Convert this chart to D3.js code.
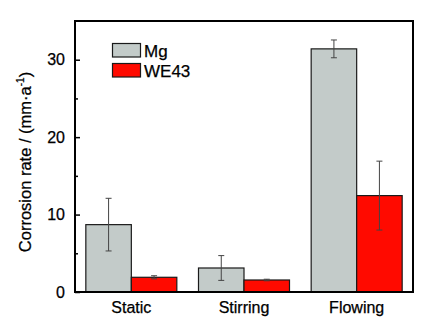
<!DOCTYPE html>
<html><head><meta charset="utf-8">
<script src="https://cdn.jsdelivr.net/npm/d3@7"></script>
<style>body{margin:0;background:#fff}svg{display:block;font-family:"Liberation Sans",Arial,sans-serif}</style>
</head><body><svg id="c" width="424" height="322"></svg>
<script>
const categories = ["Static", "Stirring", "Flowing"];
const seriesNames = ["Mg", "WE43"];
const mgValues = [8.7, 3.1, 31.4];
const mgErrors = [3.4, 1.6, 1.15];
const we43Values = [1.9, 1.55, 12.45];
const we43Errors = [0.2, 0.1, 4.45];
const yTicks = [0, 10, 20, 30];
const yMinorTicks = [5, 15, 25];
const colors = ["#c3cbc9", "#ff0a00"];

const svg = d3.select("#c");
const m = {l: 75, t: 21, r: 11, b: 30};
const W = 424, H = 322;
const x = d3.scaleBand().domain(categories).range([m.l, W - m.r]).padding(0);
const y = d3.scaleLinear().domain([0, 35]).range([H - m.b, m.t]);
const bw = 45.5;

const series = [
  {name: seriesNames[0], vals: mgValues, errs: mgErrors, color: colors[0]},
  {name: seriesNames[1], vals: we43Values, errs: we43Errors, color: colors[1]}
];

series.forEach((s, si) => {
  const g = svg.append("g");
  categories.forEach((c, i) => {
    const cx = x(c) + x.bandwidth() / 2;
    const x0 = si === 0 ? cx - bw : cx;
    g.append("rect").attr("x", x0).attr("y", y(s.vals[i]))
      .attr("width", bw).attr("height", y(0) - y(s.vals[i]))
      .attr("fill", s.color).attr("stroke", "#1a1a1a").attr("stroke-width", 1.2);
  });
});
series.forEach((s, si) => {
  categories.forEach((c, i) => {
    const cx = x(c) + x.bandwidth() / 2;
    const ex = si === 0 ? cx - bw / 2 : cx + bw / 2;
    const hi = y(s.vals[i] + s.errs[i]), lo = y(s.vals[i] - s.errs[i]);
    svg.append("line").attr("x1", ex).attr("x2", ex).attr("y1", hi).attr("y2", lo)
      .attr("stroke", "#444").attr("stroke-width", 1);
    [hi, lo].forEach(v => svg.append("line").attr("x1", ex - 3).attr("x2", ex + 3)
      .attr("y1", v).attr("y2", v).attr("stroke", "#444").attr("stroke-width", 1));
  });
});

// frame
svg.append("rect").attr("x", m.l).attr("y", m.t).attr("width", W - m.r - m.l)
  .attr("height", H - m.b - m.t).attr("fill", "none").attr("stroke", "#000").attr("stroke-width", 2);

const txt = sel => sel.attr("fill", "#000").attr("stroke", "#000").attr("stroke-width", 0.25)
  .attr("font-family", "Liberation Sans, Arial, sans-serif");

// y axis
const yAxis = d3.axisLeft(y).tickValues(yTicks).tickSize(-5).tickPadding(10).tickFormat(d3.format("d"));
const ga = svg.append("g").attr("transform", `translate(${m.l},0)`).call(yAxis);
ga.select(".domain").remove();
ga.selectAll(".tick line").attr("stroke", "#000").attr("stroke-width", 1.5);
ga.selectAll("text").attr("font-size", 16).call(txt);
const gm = svg.append("g").attr("transform", `translate(${m.l},0)`)
  .call(d3.axisLeft(y).tickValues(yMinorTicks).tickSize(-3).tickFormat(""));
gm.select(".domain").remove();
gm.selectAll(".tick line").attr("stroke", "#000").attr("stroke-width", 1.5);

// x axis labels
const gx = svg.append("g").attr("transform", `translate(0,${H - m.b})`)
  .call(d3.axisBottom(x).tickSize(0).tickPadding(10));
gx.select(".domain").remove();
gx.selectAll("text").attr("font-size", 16).call(txt);

// y label
const yl = svg.append("text").attr("transform", "translate(31,162) rotate(-90)")
  .attr("text-anchor", "middle").attr("font-size", 16.5).call(txt);
yl.append("tspan").text("Corrosion rate / (mm·a");
yl.append("tspan").text("-1").attr("font-size", 10).attr("dy", -7);
yl.append("tspan").text(")").attr("dy", 7);

// legend
series.forEach((s, i) => {
  const ly = 43.5 + i * 20;
  svg.append("rect").attr("x", 112.5).attr("y", ly).attr("width", 28).attr("height", 13.5)
    .attr("fill", s.color).attr("stroke", "#1a1a1a").attr("stroke-width", 1.2);
  svg.append("text").attr("x", 144).attr("y", ly + 13).attr("font-size", 17).call(txt).text(s.name);
});
</script></body></html>
